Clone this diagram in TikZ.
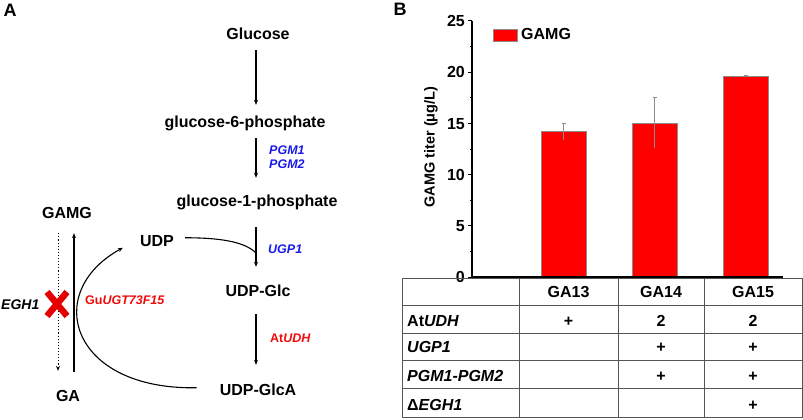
\documentclass[tikz,border=0pt]{standalone}
\usepackage{fontspec}
\setmainfont{Liberation Sans}
\usetikzlibrary{arrows.meta,calc}
\definecolor{xred}{RGB}{228,0,0}
\definecolor{gred}{RGB}{240,10,10}
\definecolor{gblue}{RGB}{25,25,235}
\definecolor{barred}{RGB}{255,0,0}
\definecolor{tgray}{RGB}{85,85,85}
\definecolor{egray}{RGB}{140,140,140}
\begin{document}
\begin{tikzpicture}[x=1pt,y=-1pt,
  fs/.style={font=\fontsize{#1}{#1}\selectfont\bfseries},
  fsi/.style={font=\fontsize{#1}{#1}\selectfont\bfseries\itshape},
  met/.style={fs=16, inner sep=0pt, text height=12pt, text depth=3.5pt, anchor=base},
  gene/.style={fsi=12.5, inner sep=0pt, anchor=base west},
  panel/.style={fs=18, inner sep=0pt},
  arr/.style={-{Stealth[length=5pt,width=4pt]}, line width=1.1pt},
  conn/.style={line width=1.1pt},
  xcross/.style={xred, line width=6.5pt},
  axisline/.style={line width=1.2pt, black},
  barbox/.style={fill=barred, draw=egray, line width=0.6pt},
  errbar/.style={egray, line width=0.7pt},
  tline/.style={tgray, line width=0.8pt},
  cell/.style={fs=16, inner sep=0pt, anchor=base},
  rowlbl/.style={fs=16, inner sep=0pt, anchor=base west},
  ticklbl/.style={fs=16, inner sep=0pt, anchor=base east}
]
\useasboundingbox (0,0) rectangle (803,420);

% ---------- Panel A ----------
\node[panel] (pA) at (10,10.5) {A};
\node[met] (glc) at (258,40) {Glucose};
\node[met] (g6p) at (245,127) {glucose-6-phosphate};
\node[met] (g1p) at (257,206) {glucose-1-phosphate};
\node[met] (udp) at (157,246) {UDP};
\node[met] (udpglc) at (258,296) {UDP-Glc};
\node[met] (udpglca) at (258,395) {UDP-GlcA};
\node[met] (gamg) at (67,218) {GAMG};
\node[met] (ga) at (68,401) {GA};

\coordinate (ax) at (256,0);
\coordinate (dx) at (58,0);
\coordinate (sx) at (74,0);
\coordinate (j1) at (256,253);

\draw[arr, shorten <=6.5pt, shorten >=10pt] (glc.south -| ax) -- (g6p.north -| ax);
\draw[arr, shorten <=7.5pt, shorten >=16pt] (g6p.south -| ax) -- (g1p.north -| ax);
\draw[arr, shorten <=17.5pt, shorten >=17pt] (g1p.south -| ax) -- (udpglc.north -| ax);
\draw[arr, shorten <=14.5pt, shorten >=18pt] (udpglc.south -| ax) -- (udpglca.north -| ax);

\node[gene, gblue] (pgm1) at (269,154) {PGM1};
\node[gene, gblue] (pgm2) at (269,168) {PGM2};
\node[gene, gblue] (ugp1) at (268,253) {UGP1};
\node[gene, gred] (atudh) at (270,342) {\upshape At\itshape UDH};
\node[gene, gred] (gu) at (85,304) {\upshape Gu\itshape UGT73F15};
\node[fsi=14, inner sep=0pt, anchor=base east] (egh) at (39.5,309.5) {EGH1};

% GAMG <-> GA
\draw[arr, dotted, line width=1pt, shorten <=11.5pt, shorten >=18pt] (gamg.south -| dx) -- (ga.north -| dx);
\draw[arr, shorten <=17pt, shorten >=11.5pt] (ga.north -| sx) -- (gamg.south -| sx);

% red cross
\draw[xcross] (47,292) -- (67,316) (47,316) -- (67,292);

% curves
\draw[conn] ($(udp.east)+(11,-4)$) .. controls +(40,0) and +(-10,-10) .. (j1);
\draw[arr] ($(udpglca.west)+(-23,-3)$) .. controls (70,390) and (42,292) .. ($(udp.west)+(-17,6)$);

% ---------- Panel B ----------
\node[panel] (pB) at (400,9.5) {B};

% axes
\draw[axisline] (472,277) -- (472,21);
\draw[axisline] (472,277) -- (783,277);
\foreach \v in {0,5,10,15,20,25} {
  \draw[axisline, line width=1pt] (472,{277-10.24*\v}) -- (468,{277-10.24*\v});
  \node[ticklbl] at (465,{277-10.24*\v+5.8}) {\v};
}
\foreach \v in {2.5,7.5,12.5,17.5,22.5} {
  \draw[line width=0.8pt] (472,{277-10.24*\v}) -- (469.5,{277-10.24*\v});
}
\node[fs=14.5, inner sep=0pt, rotate=90] (ytitle) at (431,147) {GAMG titer (μg/L)};

% legend
\draw[barbox] (493,29) rectangle (517,41);
\node[fs=16, inner sep=0pt, anchor=base west] (leg) at (521,39.5) {GAMG};

% bars
\draw[barbox] (541,277) rectangle (586,{277-10.24*14.2});
\draw[barbox] (632,277) rectangle (677,{277-10.24*15.05});
\draw[barbox] (723,277) rectangle (768,{277-10.24*19.6});
% error bars
\draw[errbar] (563.5,{277-10.24*13.4}) -- (563.5,{277-10.24*15.0})
  (561.5,{277-10.24*15.0}) -- (565.5,{277-10.24*15.0});
\draw[errbar] (654.5,{277-10.24*12.55}) -- (654.5,{277-10.24*17.55})
  (652.5,{277-10.24*17.55}) -- (656.5,{277-10.24*17.55});
\draw[errbar] (745.5,{277-10.24*19.5}) -- (745.5,{277-10.24*19.7})
  (743.5,{277-10.24*19.7}) -- (747.5,{277-10.24*19.7});

% table
\draw[tline] (402,278) rectangle (802,417);
\foreach \yy in {305,333,360,388} \draw[tline] (402,\yy) -- (802,\yy);
\foreach \xx in {519,618,704} \draw[tline] (\xx,278) -- (\xx,417);
\draw[axisline] (472,277) -- (783,277);

\node[cell] (h1) at (568.5,297.7) {GA13};
\node[cell] (h2) at (661,297.7) {GA14};
\node[cell] (h3) at (753,297.7) {GA15};

\node[rowlbl] (r1) at (407,326) {At\itshape UDH};
\node[rowlbl] (r2) at (407,352.7) {\itshape UGP1};
\node[rowlbl] (r3) at (407,381.7) {\itshape PGM1-PGM2};
\node[rowlbl] (r4) at (407,410) {Δ\itshape EGH1};

\node[cell] (c11) at (568.5,326) {+};
\node[cell] (c12) at (661,326) {2};
\node[cell] (c13) at (753,326) {2};
\node[cell] (c22) at (661,352.7) {+};
\node[cell] (c23) at (753,352.7) {+};
\node[cell] (c32) at (661,381.7) {+};
\node[cell] (c33) at (753,381.7) {+};
\node[cell] (c43) at (753,410) {+};
\end{tikzpicture}
\end{document}
